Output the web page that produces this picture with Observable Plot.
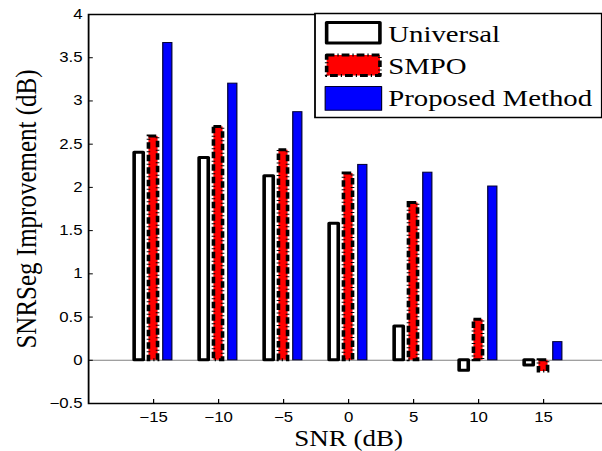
<!DOCTYPE html>
<html><head><meta charset="utf-8">
<script src="https://cdn.jsdelivr.net/npm/d3@7"></script>
<script src="https://cdn.jsdelivr.net/npm/@observablehq/plot@0.6"></script>
<style>html,body{margin:0;padding:0;background:#fff;overflow:hidden}</style>
</head><body><div id="chart"></div>
<script>
// ---- data ----
const snr = [-15, -10, -5, 0, 5, 10, 15];
const universal = [2.40, 2.34, 2.13, 1.58, 0.39, -0.12, -0.06];
const smpo = [2.59, 2.70, 2.43, 2.16, 1.82, 0.47, -0.13];
const proposed = [3.67, 3.20, 2.87, 2.26, 2.17, 2.01, 0.21];
const seriesNames = ["Universal", "SMPO", "Proposed Method"];
const xTicks = [-15, -10, -5, 0, 5, 10, 15];
const yTicks = [-0.5, 0, 0.5, 1, 1.5, 2, 2.5, 3, 3.5, 4];
const xLabel = "SNR (dB)";
const yLabel = "SNRSeg Improvement (dB)";

// ---- layout ----
const W = 602, H = 451, STRETCH = 1.2, W0 = W / STRETCH;
const groupOffset = [-1.1, 0, 1.1], halfBar = 0.35;
const serif = "'Liberation Serif', 'Times New Roman', serif";
const dash = "6.5,2.5,1,2.5";

const rows = (vals, i) => snr.map((s, j) => ({snr: s, value: vals[j], series: seriesNames[i]}));
const dU = rows(universal, 0), dS = rows(smpo, 1), dP = rows(proposed, 2);
const bar = i => ({
  x1: d => d.snr + groupOffset[i] - halfBar,
  x2: d => d.snr + groupOffset[i] + halfBar,
  y1: 0, y2: "value"
});
const fmt = d => (d < 0 ? "\u2212" : "") + Math.abs(d);

const svg = Plot.plot({
  width: W0, height: H,
  marginLeft: 88 / STRETCH, marginRight: W0 - 608 / STRETCH,
  marginTop: 14, marginBottom: 48,
  x: {domain: [-20, 20], label: null},
  y: {domain: [-0.5, 4], label: null},
  style: {fontFamily: "'Liberation Sans', Arial, sans-serif", fontSize: "14px", color: "black", background: "white"},
  marks: [
    Plot.ruleY([0], {stroke: "#808080", strokeWidth: 1}),
    Plot.rect(dU, {...bar(0), fill: "white", stroke: "black", strokeWidth: 3, strokeLinejoin: "round"}),
    Plot.rect(dS, {...bar(1), fill: "red", stroke: "black", strokeWidth: 3, strokeDasharray: dash}),
    Plot.rect(dP, {...bar(2), fill: "blue", stroke: "#000033", strokeWidth: 1}),
    Plot.frame({stroke: "black", strokeWidth: 1.5}),
    Plot.axisX({ticks: xTicks, tickFormat: fmt, tickSize: -4, tickPadding: 13, label: null, fontSize: 14}),
    Plot.axisY({ticks: yTicks, tickFormat: fmt, tickSize: -4, tickPadding: 9, label: null, fontSize: 14}),
    Plot.text([xLabel], {text: d => d, frameAnchor: "bottom", dy: 35, textAnchor: "middle", lineAnchor: "middle", fontSize: 22.5, fontFamily: serif, fill: "black"}),
    Plot.text([yLabel], {text: d => d, frameAnchor: "left", dx: -51.6, rotate: -90, textAnchor: "middle", lineAnchor: "middle", fontSize: 25, fontFamily: serif, fill: "black"})
  ]
});

svg.setAttribute("width", W);
svg.setAttribute("height", H);
svg.setAttribute("preserveAspectRatio", "none");
svg.style.width = W + "px";
svg.style.height = H + "px";
svg.style.maxWidth = "none";

// ---- legend (inside the axes, top right) ----
const g = d3.select(svg).append("g").attr("text-anchor", "start");
g.append("rect").attr("x", 262.5).attr("y", 13.5).attr("width", 239).attr("height", 104)
  .attr("fill", "white").attr("stroke", "black").attr("stroke-width", 1.5);
const sw = [
  {y: 22.5, h: 20.5, fill: "white", stroke: "black", sw: 3, dash: null, x: 272.2, w: 44.4},
  {y: 55, h: 20.5, fill: "red", stroke: "black", sw: 3, dash: dash, x: 272.2, w: 44.4},
  {y: 86.5, h: 23.7, fill: "blue", stroke: "#000033", sw: 1, dash: null, x: 271, w: 47}
];
const baselines = [41.7, 74, 106];
seriesNames.forEach((name, i) => {
  const s = sw[i];
  g.append("rect").attr("x", s.x).attr("y", s.y).attr("width", s.w).attr("height", s.h)
    .attr("fill", s.fill).attr("stroke", s.stroke).attr("stroke-width", s.sw)
    .attr("stroke-linejoin", "round").attr("stroke-dasharray", s.dash);
  g.append("text").attr("x", 323.5).attr("y", baselines[i]).attr("font-family", serif)
    .attr("text-anchor", "start").attr("font-size", 24).attr("fill", "black").text(name);
});

document.getElementById("chart").appendChild(svg);
</script>
</body></html>
